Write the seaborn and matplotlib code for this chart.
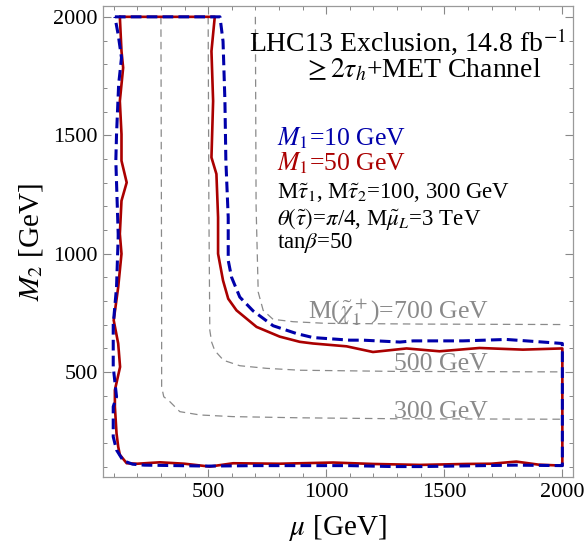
import matplotlib
matplotlib.use("Agg")
import matplotlib.pyplot as plt
from matplotlib.ticker import MultipleLocator
import seaborn as sns

sns.set_style("white")
plt.rcParams['font.family'] = ['Liberation Serif', 'DejaVu Serif']
plt.rcParams['mathtext.fontset'] = 'stix'
plt.rcParams['text.color'] = 'black'
plt.rcParams['axes.labelcolor'] = 'black'

# exclusion contour, M1 = 10 GeV (blue, dashed)
blue_mu = [105, 550, 563, 571, 575, 585, 585, 599, 634, 690, 775, 874, 944, 1100, 1156,
           1312, 1368, 1579, 1763, 1904, 2000, 2000, 1800, 1600, 1400, 1283, 1100, 900,
           700, 500, 300, 230, 180, 140, 112, 98, 98, 112, 98, 98, 98, 112, 119, 119,
           109, 112, 121, 133, 119, 105]
blue_m2 = [2000, 2000, 1897, 1644, 1392, 1153, 971, 900, 816, 758, 695, 662, 645, 634, 634,
           626, 631, 631, 637, 627, 620, 104, 106, 103, 100, 100, 104, 104,
           104, 102, 105, 106, 110, 125, 170, 226, 353, 395, 521, 634, 700, 858, 1069, 1083,
           1392, 1504, 1715, 1827, 1925, 2000]

# exclusion contour, M1 = 50 GeV (red, solid)
red_mu = [126, 528, 514, 521, 514, 535, 542, 542, 563, 585, 620, 705, 803, 888, 944,
          1086, 1198, 1340, 1480, 1649, 1833, 1996, 2000, 2000, 1900, 1805, 1700, 1593,
          1396, 1198, 1029, 800, 606, 507, 400, 296, 200, 155, 126, 119, 112, 105, 105,
          127, 119, 100, 119, 133, 126, 133, 155, 133, 133, 126, 140, 133, 126]
red_m2 = [2000, 2000, 1855, 1644, 1406, 1336, 1153, 999, 886, 809, 760, 690, 649, 627, 620,
          608, 584, 599, 587, 601, 594, 599, 599, 104, 108, 121, 112, 111,
          107, 111, 117, 112, 114, 100, 112, 118, 112, 114, 150, 184, 240, 353, 423,
          521, 620, 718, 858, 999, 1083, 1223, 1300, 1392, 1504, 1644, 1785, 1855, 2000]

# lightest chargino mass contours
ch300_mu = [300, 303, 303, 312, 338, 380, 465, 605, 888, 1300, 2000]
ch300_m2 = [2000, 800, 437, 395, 374, 332, 318, 311, 306, 302, 300]
ch500_mu = [500, 503, 507, 515, 528, 565, 634, 747, 888, 1300, 2000]
ch500_m2 = [2000, 1200, 676, 625, 590, 549, 526, 515, 507, 502, 500]
ch700_mu = [700, 703, 712, 733, 775, 860, 1000, 1400, 2000]
ch700_m2 = [2000, 1200, 837, 760, 722, 712, 705, 702, 700]

fig = plt.figure(figsize=(5.87, 5.44), dpi=100)
ax = fig.add_axes([0.176, 0.1232, 0.7997, 0.865])

gray = '#8a8a8a'
for mu, m2 in [(ch300_mu, ch300_m2), (ch500_mu, ch500_m2), (ch700_mu, ch700_m2)]:
    sns.lineplot(x=mu, y=m2, sort=False, estimator=None, ax=ax,
                 color=gray, lw=0.9, linestyle=(0, (6, 4)))

sns.lineplot(x=red_mu, y=red_m2, sort=False, estimator=None, ax=ax,
             color='#aa0000', lw=1.9)
sns.lineplot(x=blue_mu, y=blue_m2, sort=False, estimator=None, ax=ax,
             color='#0000aa', lw=2.2, linestyle=(0, (3.5, 1.7)))

# contour labels
ax.text(1307, 753, r"M($\tilde{\chi}_1^+$)=700 GeV", color=gray, fontsize=18.5,
        ha='center', va='center')
ax.text(1484, 535, "500 GeV", color=gray, fontsize=18.5, ha='center', va='center')
ax.text(1484, 332, "300 GeV", color=gray, fontsize=18.5, ha='center', va='center')

# title block and legend text
ax.text(0.648, 0.925, r"LHC13 Exclusion, 14.8 fb$^{-1}$", transform=ax.transAxes,
        fontsize=20, ha='center', va='center')
ax.text(0.679, 0.865, r"$\geq2\tau_h$+MET Channel", transform=ax.transAxes,
        fontsize=20, ha='center', va='center')
ax.text(0.369, 0.720, r"$M_1$=10 GeV", transform=ax.transAxes, color='#0000aa',
        fontsize=18.5, ha='left', va='center')
ax.text(0.369, 0.667, r"$M_1$=50 GeV", transform=ax.transAxes, color='#aa0000',
        fontsize=18.5, ha='left', va='center')
ax.text(0.369, 0.603, r"M$\tilde{\tau}_1$, M$\tilde{\tau}_2$=100, 300 GeV",
        transform=ax.transAxes, fontsize=16.5, ha='left', va='center')
ax.text(0.369, 0.548, r"$\theta(\tilde{\tau})$=$\pi$/4, M$\tilde{\mu}_L$=3 TeV",
        transform=ax.transAxes, fontsize=16.5, ha='left', va='center')
ax.text(0.369, 0.497, r"tan$\beta$=50", transform=ax.transAxes, fontsize=16.5,
        ha='left', va='center')

ax.set_xlim(56, 2044)
ax.set_ylim(56, 2044)
for axis in (ax.xaxis, ax.yaxis):
    axis.set_major_locator(MultipleLocator(500))
    axis.set_minor_locator(MultipleLocator(100))
ax.tick_params(which='both', direction='in', bottom=True, left=True, top=True,
               right=True, color='#888888', labelcolor='black', labelsize=16, pad=4)
ax.tick_params(which='major', length=5.5, width=0.8)
ax.tick_params(which='minor', length=3, width=0.7)
for sp in ax.spines.values():
    sp.set_color('#9a9a9a')
    sp.set_linewidth(0.9)

ax.set_xlabel(r"$\mu$ [GeV]", fontsize=21, labelpad=8)
ax.set_ylabel(r"$M_2$ [GeV]", fontsize=21, labelpad=6)

fig.savefig("out.png", dpi=100)
